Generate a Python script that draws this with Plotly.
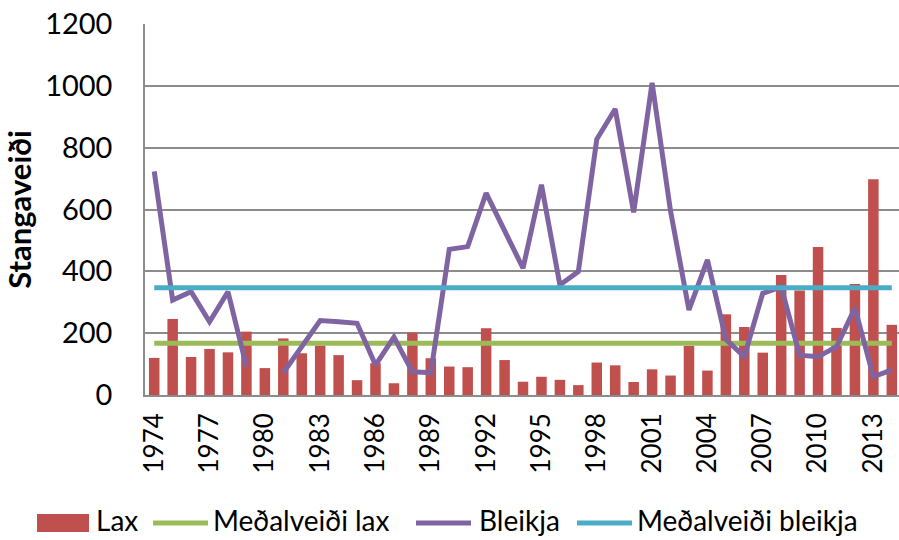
import plotly.graph_objects as go

years = list(range(1974, 2015))
lax = [120, 246, 123, 149, 138, 205, 87, 183, 135, 160, 129, 48, 103, 38, 202, 119, 92, 90,
       216, 113, 43, 59, 49, 32, 105, 96, 42, 83, 63, 159, 79, 261, 220, 137, 388, 338, 479,
       217, 359, 698, 227]
bleikja = [723, 307, 334, 237, 334, 92, None, 72, 156, 241, 237, 232, 97, 187, 75, 72, 471,
           480, 653, 532, 410, 680, 356, 399, 827, 925, 591, 1010, 595, 275, 437, 180, 124,
           329, 350, 129, 124, 156, 281, 59, 81]
medal_lax_value = 167
medal_bleikja_value = 347
medal_lax = [medal_lax_value] * len(years)
medal_bleikja = [medal_bleikja_value] * len(years)
tick_years = list(range(1974, 2015, 3))
series_names = ["Lax", "Meðalveiði lax", "Bleikja", "Meðalveiði bleikja"]
colors = ["#C0504D", "#9BBB59", "#8064A2", "#4BACC6"]

FONT = "Lato"
W, H = 899, 540
ML, MR, MT, MB = 145, 0, 24, 145
PW, PH = W - ML - MR, H - MT - MB
LW = 5


def px(x):
    return (x - ML) / PW


def py(y):
    return (H - MB - y) / PH


fig = go.Figure()
fig.add_trace(go.Bar(x=years, y=lax, name=series_names[0],
                     marker=dict(color=colors[0], line=dict(width=0))))
fig.add_trace(go.Scatter(x=years, y=medal_lax, name=series_names[1], mode="lines",
                         line=dict(color=colors[1], width=LW)))
fig.add_trace(go.Scatter(x=years, y=bleikja, name=series_names[2], mode="lines",
                         connectgaps=False, line=dict(color=colors[2], width=LW)))
fig.add_trace(go.Scatter(x=years, y=medal_bleikja, name=series_names[3], mode="lines",
                         line=dict(color=colors[3], width=LW)))

# Custom legend (Excel style)
legend_y = 523
shapes = [dict(type="rect", xref="paper", yref="paper", x0=px(37), x1=px(89),
               y0=py(532), y1=py(514), fillcolor=colors[0], line=dict(width=0))]
line_spans = [(153, 208), (416, 471), (577, 632)]
for (a, b), c in zip(line_spans, colors[1:]):
    shapes.append(dict(type="line", xref="paper", yref="paper", x0=px(a), x1=px(b),
                       y0=py(legend_y), y1=py(legend_y),
                       line=dict(color=c, width=LW)))
text_x = [95, 212, 478, 636]
annotations = [dict(text=n, x=px(tx), y=py(520), xref="paper", yref="paper",
                    xanchor="left", yanchor="middle", showarrow=False,
                    font=dict(size=28, family=FONT, color="black"), borderpad=0)
               for n, tx in zip(series_names, text_x)]

fig.update_layout(
    width=W, height=H,
    margin=dict(l=ML, r=MR, t=MT, b=MB, autoexpand=False),
    paper_bgcolor="white", plot_bgcolor="white",
    bargap=0.43,
    font=dict(family=FONT, color="black"),
    showlegend=False,
    shapes=shapes,
    annotations=annotations,
    xaxis=dict(
        range=[1973.5, 2014.39], automargin=False,
        tickmode="array", tickvals=tick_years, ticktext=[str(y) for y in tick_years],
        tickangle=-90, tickfont=dict(size=26, family=FONT),
        showgrid=False, showline=True, linecolor="#8c8c8c", linewidth=1.5,
        ticks="", zeroline=False, ticklabelstandoff=6,
    ),
    yaxis=dict(
        range=[0, 1200], dtick=200, tickfont=dict(size=29, family=FONT), automargin=False,
        showgrid=True, gridcolor="#8c8c8c", gridwidth=1.5,
        showline=True, linecolor="#8c8c8c", linewidth=1.5,
        ticks="", zeroline=False, ticklabelstandoff=25,
        title=dict(text="<b>Stangaveiði</b>", font=dict(size=31, family=FONT), standoff=10),
    ),
)

fig.write_html("out.html", config={"displayModeBar": False},
               post_script="document.body.style.margin='0';document.body.style.overflow='hidden';")
